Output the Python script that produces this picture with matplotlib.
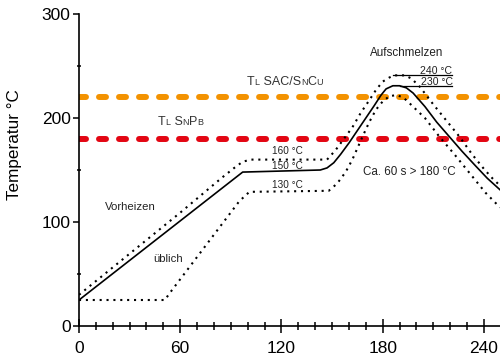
import matplotlib
matplotlib.use('Agg')
import matplotlib.pyplot as plt
from matplotlib.ticker import MultipleLocator
from matplotlib.offsetbox import TextArea, HPacker, AnnotationBbox

plt.rcParams['font.family'] = ['Liberation Sans', 'DejaVu Sans']

# Standardprofil (durchgezogen)
profil_t = [0, 89.5, 97, 143, 147, 151, 155, 160, 165, 170, 175, 179, 182, 186, 190, 194,
            198, 205, 212, 219.5, 227, 235, 242, 249.5]
profil_T = [25, 138.5, 148, 150, 152, 157, 165, 176, 188, 200, 212, 222, 228, 231, 231, 229,
            224, 211, 196, 182, 168, 154, 142, 131]

# obere Grenze (gepunktet)
oben_t = [0, 60, 85, 92, 97, 102, 147, 152, 157, 162, 167, 172, 176, 180, 184, 187,
          193, 197, 202, 210, 218, 225.5, 233, 240, 245, 249.5]
oben_T = [30, 109, 143, 152, 158, 160, 160, 169, 180, 191, 205, 217, 227, 235, 239, 241,
          241, 238, 230, 213, 197, 182, 165, 151, 142, 135]

# untere Grenze (gepunktet)
unten_t = [0, 51, 53, 95, 101, 148, 153, 158, 162, 168, 172, 176, 180, 184, 188,
           192, 196, 205, 213.6, 222, 230, 241, 249.5]
unten_T = [25, 25, 30, 120, 129, 130, 137, 148, 160, 182, 196, 208, 216, 221, 222,
           220, 214, 200, 182, 166, 150, 128, 114]

liquidus_sac = 220
liquidus_snpb = 180
spitze_oben = 241
spitze_profil = 231

x_ticks = [0, 60, 120, 180, 240]
y_ticks = [0, 100, 200, 300]

fig = plt.figure(figsize=(5, 3.56), dpi=100)
ax = fig.add_axes([79 / 500, 30 / 356, 421 / 500, 312 / 356])

ax.axhline(liquidus_sac, color='#F39200', lw=4.3, dashes=(1.17, 2.18),
           dash_capstyle='round')
ax.axhline(liquidus_snpb, color='#E30613', lw=4.3, dashes=(1.17, 2.18),
           dash_capstyle='round')

ax.plot(profil_t, profil_T, color='black', lw=1.2)
ax.plot(oben_t, oben_T, color='black', lw=1.5, dashes=(1, 2.3))
ax.plot(unten_t, unten_T, color='black', lw=1.5, dashes=(1, 2.3))

# Markierungslinien der Spitzen
ax.plot([186, 221], [spitze_oben, spitze_oben], color='black', lw=0.9)
ax.plot([190, 221], [spitze_profil, spitze_profil], color='black', lw=0.9)

txt = dict(color='#222222', ha='center', va='center')
ax.text(194.4, 262.5, 'Aufschmelzen', fontsize=8.4, **txt)
ax.text(211.5, 245.5, '240 °C', fontsize=7.6, **txt)
ax.text(212, 235, '230 °C', fontsize=7.6, **txt)
ax.text(123.3, 168.3, '160 °C', fontsize=7.2, **txt)
ax.text(123.3, 153.8, '150 °C', fontsize=7.2, **txt)
ax.text(123.3, 135.6, '130 °C', fontsize=7.2, **txt)
ax.text(196, 148, 'Ca. 60 s > 180 °C', fontsize=8.4, **txt)
ax.text(30.7, 114, 'Vorheizen', fontsize=8.2, **txt)
ax.text(52.7, 64.5, 'üblich', fontsize=8.2, **txt)


def kapitaelchen(teile, xy):
    boxes = [TextArea(s, textprops=dict(fontsize=fs, color='#333333')) for s, fs in teile]
    pack = HPacker(children=boxes, align='baseline', pad=0, sep=0)
    ab = AnnotationBbox(pack, xy, xycoords='data', box_alignment=(0, 0.5),
                        frameon=False, pad=0)
    ax.add_artist(ab)


kapitaelchen([('T', 9), ('L', 6.5), (' SAC/S', 9), ('N', 6.5), ('C', 9), ('U', 6.5)],
             (99.6, 234.6))
kapitaelchen([('T', 9), ('L', 6.5), (' S', 9), ('N', 6.5), ('P', 9), ('B', 6.5)],
             (46.8, 196))

ax.set_xlim(0, 249.5)
ax.set_ylim(0, 300)
ax.set_xticks(x_ticks)
ax.set_yticks(y_ticks)
ax.xaxis.set_minor_locator(MultipleLocator(10))
ax.yaxis.set_minor_locator(MultipleLocator(50))

for s in ['top', 'right']:
    ax.spines[s].set_visible(False)
for s in ['left', 'bottom']:
    ax.spines[s].set_linewidth(1.2)

ax.tick_params(axis='x', which='major', direction='inout', length=9.6, width=1.1,
               labelsize=12.5, pad=6)
ax.tick_params(axis='x', which='minor', direction='inout', length=5.3, width=1.1)
ax.tick_params(axis='y', which='major', direction='out', length=4, width=1.1,
               labelsize=12.5, pad=2)
ax.tick_params(axis='y', which='minor', direction='inout', length=3, width=1.1)

ax.set_ylabel('Temperatur °C', fontsize=12.3)
ax.yaxis.set_label_coords(-0.135, 0.583)

fig.savefig('out.png', dpi=100)
